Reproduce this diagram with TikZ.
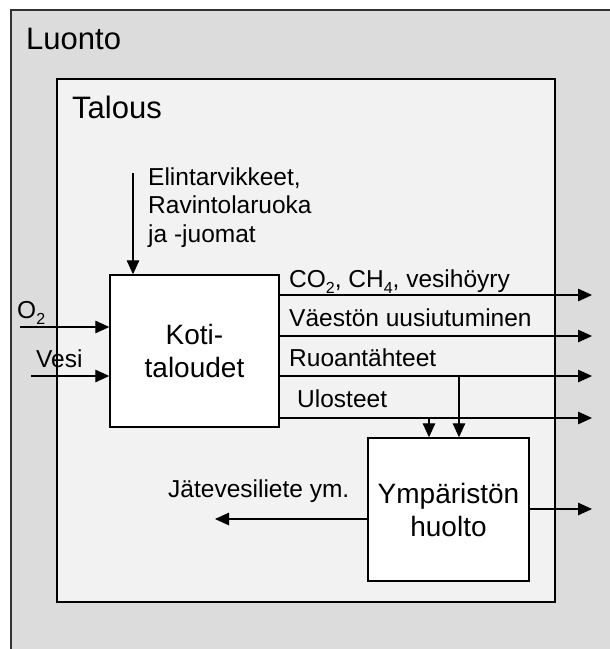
\documentclass[tikz,border=0pt]{standalone}
\usepackage{fontspec}
\setmainfont{Liberation Sans}
\usetikzlibrary{arrows.meta}
\definecolor{outerc}{RGB}{220,220,220}
\definecolor{innerc}{RGB}{242,242,242}
\definecolor{edgec}{RGB}{50,50,50}
\newcommand{\sbs}[1]{\raisebox{-6pt}{\fontsize{16}{16}\selectfont #1}}
\begin{document}
\begin{tikzpicture}[x=1pt,y=-1pt,
  arr/.style={-{Triangle[length=14pt,width=12.5pt]}, line width=1.3pt},
  lbl/.style={font=\fontsize{24.5}{28.5}\selectfont, inner sep=0pt, anchor=base west},
  title/.style={font=\fontsize{31}{36}\selectfont, inner sep=0pt, anchor=base west},
  boxstyle/.style={draw=black, line width=1.4pt, fill=white, inner sep=0pt,
    align=center, font=\fontsize{28}{33}\selectfont}]
\useasboundingbox (0,0) rectangle (610,649);
% Luonto
\fill[outerc] (11,10) rectangle (640,680);
\draw[edgec, line width=1.5pt] (11,680) -- (11,10) -- (640,10);
\node[title] (luonto) at (26,49) {Luonto};
% Talous
\draw[black, line width=1.4pt, fill=innerc] (57,79) rectangle (555,602);
\node[title] (talous) at (72,118) {Talous};
% boxes
\node[boxstyle, minimum width=169pt, minimum height=152pt] (koti) at (194.5,351) {Koti-\\taloudet};
\node[boxstyle, minimum width=161pt, minimum height=143pt] (ymp) at (448.5,509.5) {Ympäristön\\huolto};
% input arrows
\coordinate (elin) at (133,173);
\draw[arr] (elin) -- (koti.north -| elin);
\node[lbl, align=left] (elintxt) at (148,242) {Elintarvikkeet,\\Ravintolaruoka\\ja -juomat};
\coordinate (o2s) at (20,327);
\draw[arr] (o2s) -- (koti.west |- o2s);
\node[lbl] (o2txt) at (17,318) {O\sbs{2}};
\coordinate (vesis) at (31,376);
\draw[arr] (vesis) -- (koti.west |- vesis);
\node[lbl] (vesitxt) at (36,367) {Vesi};
% output arrows
\coordinate (e1) at (592,295);
\coordinate (e2) at (592,336);
\coordinate (e3) at (592,376);
\coordinate (e4) at (592,418);
\draw[arr] (koti.east |- e1) -- (e1);
\draw[arr] (koti.east |- e2) -- (e2);
\draw[arr] (koti.east |- e3) -- (e3);
\draw[arr] (koti.east |- e4) -- (e4);
\node[lbl] (t1) at (289,287) {CO\sbs{2}, CH\sbs{4}, vesihöyry};
\node[lbl] (t2) at (289,326) {Väestön uusiutuminen};
\node[lbl] (t3) at (289,366) {Ruoantähteet};
\node[lbl] (t4) at (297,407) {Ulosteet};
% down arrows to Ymp
\coordinate (d1) at (459,376);
\coordinate (d2) at (429,418);
\draw[arr] (d1) -- (ymp.north -| d1);
\draw[arr] (d2) -- (ymp.north -| d2);
% Ymp outputs
\coordinate (r1) at (592,509);
\draw[arr] (ymp.east |- r1) -- (r1);
\coordinate (l1) at (215,519);
\draw[arr] (ymp.west |- l1) -- (l1);
\node[lbl] (jtxt) at (168,497) {Jätevesiliete ym.};
\end{tikzpicture}
\end{document}
